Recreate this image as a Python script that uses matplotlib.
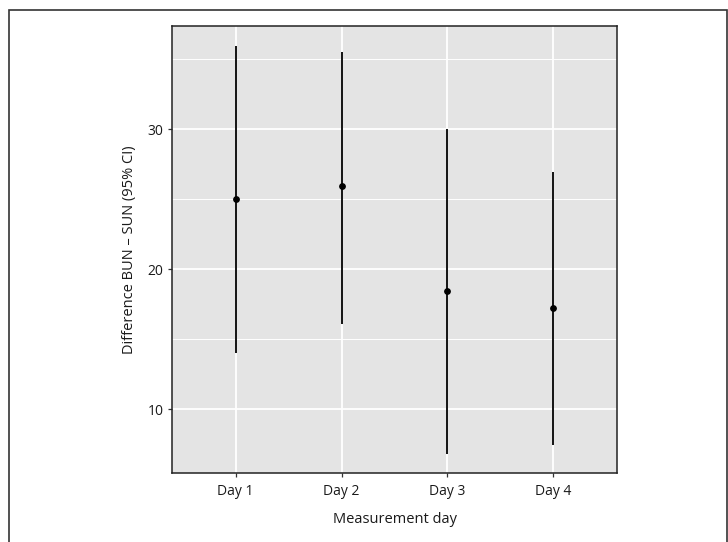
import matplotlib

matplotlib.use('Agg')
import matplotlib.pyplot as plt
from matplotlib.patches import Rectangle
from matplotlib.ticker import MultipleLocator

plt.rcParams['font.family'] = ['Open Sans', 'DejaVu Sans']

# difference BUN - SUN per measurement day, with 95% CI
days = ['Day 1', 'Day 2', 'Day 3', 'Day 4']
diff = [25.0, 25.9, 18.4, 17.2]
ci_low = [14.0, 16.1, 6.8, 7.4]
ci_high = [35.9, 35.5, 30.0, 26.9]

fig = plt.figure(figsize=(7.28, 5.42), dpi=100)
ax = fig.add_axes([0.2363, 0.1273, 0.6112, 0.8247])

# frame round the whole figure (bottom edge falls off the canvas)
fig.patches.append(Rectangle((9 / 728, -0.05), 718 / 728, 1.05 - 10 / 542,
                             transform=fig.transFigure, fill=False,
                             edgecolor='#333333', linewidth=1.2))

ax.set_facecolor('#e4e4e4')
x = list(range(1, len(days) + 1))

ax.vlines(x, ci_low, ci_high, color='black', linewidth=1.3, zorder=3)
ax.scatter(x, diff, color='black', s=15, zorder=4)

ax.set_xlim(0.4, 4.6)
ax.set_ylim(5.43, 37.36)
ax.set_xticks(x)
ax.set_xticklabels(days)
ax.yaxis.set_major_locator(MultipleLocator(10))
ax.yaxis.set_minor_locator(MultipleLocator(5))

ax.grid(which='major', color='white', linewidth=1.3)
ax.grid(which='minor', axis='y', color='white', linewidth=0.7)
ax.set_axisbelow(True)
ax.tick_params(which='minor', length=0)
ax.tick_params(which='major', length=3, width=0.9, color='#333333',
               labelsize=10, labelcolor='#1a1a1a', pad=3)
ax.tick_params(axis='x', pad=5)

for sp in ax.spines.values():
    sp.set_color('#222222')
    sp.set_linewidth(1.1)

ax.set_xlabel('Measurement day', fontsize=10.5, color='#1a1a1a', labelpad=9)
ax.set_ylabel('Difference BUN \u2013 SUN (95% CI)', fontsize=10.5,
              color='#1a1a1a', labelpad=8)

fig.savefig('out.png', dpi=100)
